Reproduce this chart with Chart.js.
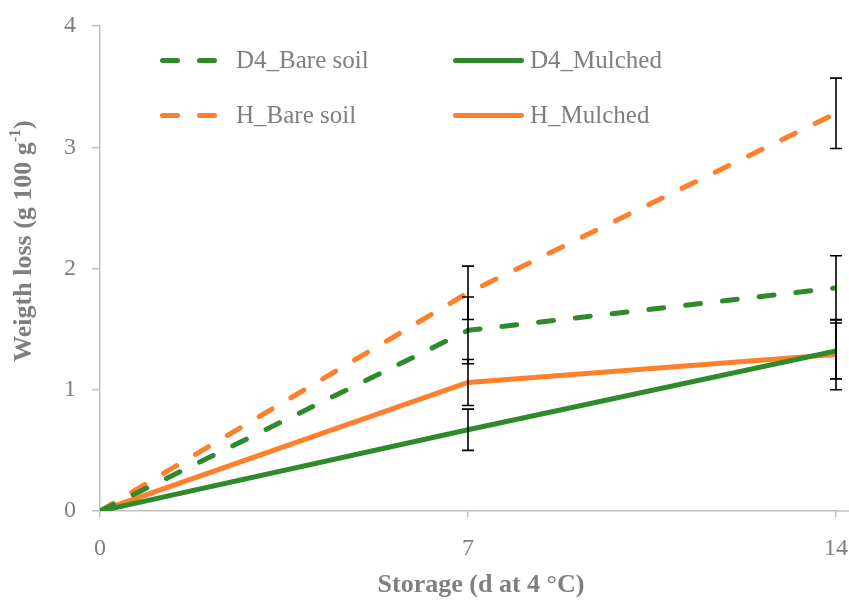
<!DOCTYPE html>
<html><head><meta charset="utf-8">
<script src="https://cdn.jsdelivr.net/npm/chart.js@4.4.1/dist/chart.umd.min.js"></script>
<style>html,body{margin:0;padding:0;background:#fff}#wrap{width:849px;height:601px}canvas{display:block}</style>
</head><body><div id="wrap"><canvas id="c" width="849" height="601"></canvas></div>
<script>
const days = [0, 7, 14];
const seriesNames = ['D4_Bare soil', 'D4_Mulched', 'H_Bare soil', 'H_Mulched'];
const d4Bare = [0, 1.49, 1.84];
const d4Mulched = [0, 0.67, 1.32];
const hBare = [0, 1.80, 3.28];
const hMulched = [0, 1.06, 1.29];
const d4BareErr = [0, 0.275, 0.265];
const d4MulchedErr = [0, 0.17, 0.23];
const hBareErr = [0, 0.22, 0.29];
const hMulchedErr = [0, 0.19, 0.29];
const xTicks = [0, 7, 14];
const yTicks = [0, 1, 2, 3, 4];
const xTitle = 'Storage (d at 4 °C)';
const yTitleMain = 'Weigth loss (g 100 g';
const yTitleSup = '-1';
const yTitleEnd = ')';

const GREEN = '#2f8a2b';
const ORANGE = '#ff7f2a';
const AXIS = '#bfbfbf';
const TEXT = '#7f7f7f';
const SERIF = '"Liberation Serif", "DejaVu Serif", serif';
const DASH = [15, 22];

function pts(vals) { return days.map((d, i) => ({x: d, y: vals[i]})); }

const datasets = [
  {label: seriesNames[0], data: pts(d4Bare), err: d4BareErr, borderColor: GREEN, borderDash: DASH, legendCol: 0, legendRow: 0},
  {label: seriesNames[1], data: pts(d4Mulched), err: d4MulchedErr, borderColor: GREEN, borderDash: [], legendCol: 1, legendRow: 0},
  {label: seriesNames[2], data: pts(hBare), err: hBareErr, borderColor: ORANGE, borderDash: DASH, legendCol: 0, legendRow: 1},
  {label: seriesNames[3], data: pts(hMulched), err: hMulchedErr, borderColor: ORANGE, borderDash: [], legendCol: 1, legendRow: 1}
].map(d => Object.assign(d, {borderWidth: 5, borderCapStyle: 'round', borderJoinStyle: 'round', pointRadius: 0, fill: false, tension: 0}));

const extras = {
  id: 'extras',
  afterDatasetsDraw(chart) {
    const ctx = chart.ctx, xs = chart.scales.x, ys = chart.scales.y;
    ctx.save();
    // axis line extension to the right edge
    ctx.strokeStyle = AXIS;
    ctx.lineWidth = 1.5;
    ctx.beginPath();
    ctx.moveTo(xs.right, ys.bottom);
    ctx.lineTo(chart.width, ys.bottom);
    ctx.stroke();
    // error bars
    ctx.strokeStyle = '#000';
    ctx.lineWidth = 1.6;
    chart.data.datasets.forEach(ds => {
      ds.data.forEach((p, i) => {
        const e = ds.err[i];
        if (!e) return;
        const px = xs.getPixelForValue(p.x);
        const top = ys.getPixelForValue(p.y + e);
        const bot = ys.getPixelForValue(p.y - e);
        ctx.beginPath();
        ctx.moveTo(px, top); ctx.lineTo(px, bot);
        ctx.moveTo(px - 6, top); ctx.lineTo(px + 6, top);
        ctx.moveTo(px - 6, bot); ctx.lineTo(px + 6, bot);
        ctx.stroke();
      });
    });
    // legend
    const colLine = [[162.5, 215.5], [455.5, 521.5]];
    const colText = [236, 530];
    const rowY = [60.5, 115.5];
    ctx.font = '25px ' + SERIF;
    ctx.textBaseline = 'middle';
    ctx.textAlign = 'left';
    chart.data.datasets.forEach(ds => {
      const y = rowY[ds.legendRow];
      const [x0, x1] = colLine[ds.legendCol];
      ctx.beginPath();
      ctx.setLineDash(ds.borderDash);
      ctx.lineCap = 'round';
      ctx.lineWidth = 5;
      ctx.strokeStyle = ds.borderColor;
      ctx.moveTo(x0, y); ctx.lineTo(x1, y);
      ctx.stroke();
      ctx.setLineDash([]);
      ctx.fillStyle = TEXT;
      ctx.fillText(ds.label, colText[ds.legendCol], y + 1);
    });
    // axis titles
    ctx.fillStyle = TEXT;
    ctx.font = 'bold 26px ' + SERIF;
    ctx.textAlign = 'center';
    ctx.textBaseline = 'middle';
    ctx.fillText(xTitle, 481, 585);
    // y title rotated with superscript
    ctx.save();
    ctx.translate(24, 241);
    ctx.rotate(-Math.PI / 2);
    const mainF = 'bold 26px ' + SERIF, supF = 'bold 16px ' + SERIF;
    ctx.font = mainF; const w1 = ctx.measureText(yTitleMain).width;
    const w3 = ctx.measureText(yTitleEnd).width;
    ctx.font = supF; const w2 = ctx.measureText(yTitleSup).width;
    let x = -(w1 + w2 + w3) / 2;
    ctx.textAlign = 'left';
    ctx.font = mainF; ctx.fillText(yTitleMain, x, 0); x += w1;
    ctx.font = supF; ctx.fillText(yTitleSup, x, -8); x += w2;
    ctx.font = mainF; ctx.fillText(yTitleEnd, x, 0);
    ctx.restore();
    ctx.restore();
  }
};

new Chart(document.getElementById('c'), {
  type: 'line',
  data: {datasets},
  options: {
    responsive: false,
    devicePixelRatio: 1,
    animation: false,
    layout: {padding: {top: 26, right: 13, left: 0, bottom: 0}},
    plugins: {legend: {display: false}, tooltip: {enabled: false}},
    scales: {
      x: {
        type: 'linear', min: 0, max: 14,
        afterBuildTicks: s => { s.ticks = xTicks.map(v => ({value: v})); },
        afterFit: s => { s.height = 90; s.paddingLeft = 0; s.paddingRight = 0; },
        grid: {drawOnChartArea: false, drawTicks: true, tickLength: 6, color: AXIS, lineWidth: 1.5},
        border: {color: AXIS, width: 1.5},
        ticks: {color: TEXT, font: {family: SERIF, size: 24}, padding: 17, maxRotation: 0, autoSkip: false}
      },
      y: {
        min: 0, max: 4,
        afterBuildTicks: s => { s.ticks = yTicks.map(v => ({value: v})); },
        afterFit: s => { s.width = 100; s.paddingTop = 0; s.paddingBottom = 0; },
        grid: {drawOnChartArea: false, drawTicks: true, tickLength: 8, color: AXIS, lineWidth: 1.5},
        border: {color: AXIS, width: 1.5},
        ticks: {color: TEXT, font: {family: SERIF, size: 24}, padding: 16}
      }
    }
  },
  plugins: [extras]
});
</script>
</body></html>
